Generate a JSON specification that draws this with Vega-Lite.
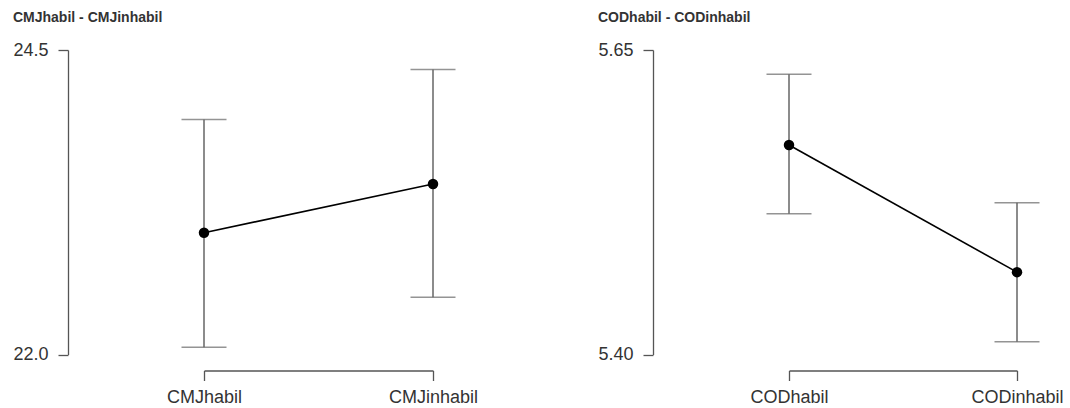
{
  "$schema": "https://vega.github.io/schema/vega-lite/v6.json",
  "background": "white",
  "padding": {"left": 12, "top": 11, "right": 5, "bottom": 0},
  "bounds": "flush",
  "spacing": 356,
  "datasets": {
    "cmj": [
      {"cond": "CMJhabil", "mean": 23.0, "lo": 22.06, "hi": 23.93},
      {"cond": "CMJinhabil", "mean": 23.40, "lo": 22.47, "hi": 24.34}
    ],
    "cod": [
      {"cond": "CODhabil", "mean": 5.572, "lo": 5.5155, "hi": 5.630},
      {"cond": "CODinhabil", "mean": 5.4676, "lo": 5.4104, "hi": 5.5245}
    ]
  },
  "config": {
    "view": {"stroke": null},
    "font": "Liberation Sans",
    "axis": {
      "domainColor": "#555", "tickColor": "#555", "domainWidth": 1.3, "tickWidth": 1.3,
      "labelColor": "#333", "labelFontSize": 18, "labelFont": "Liberation Sans",
      "tickSize": 10, "grid": false, "title": null
    },
    "axisX": {"offset": 16, "labelAngle": 0, "labelPadding": 8},
    "axisY": {"offset": 136, "labelPadding": 10},
    "title": {"anchor": "start", "frame": "bounds", "fontSize": 14, "fontWeight": "bold", "color": "#333", "font": "Liberation Sans", "offset": 16}
  },
  "hconcat": [
    {
      "title": "CMJhabil - CMJinhabil",
      "width": 229,
      "height": 304.5,
      "data": {"name": "cmj"},
      "encoding": {
        "x": {"field": "cond", "type": "nominal", "scale": {"type": "point", "padding": 0, "domain": ["CMJhabil", "CMJinhabil"]}}
      },
      "layer": [
        {
          "mark": {"type": "rule", "stroke": "#666", "strokeWidth": 1.5},
          "encoding": {
            "y": {"field": "lo", "type": "quantitative", "title": null, "scale": {"domain": [22, 24.5], "nice": false, "zero": false}, "axis": {"values": [22, 24.5], "format": ".1f"}},
            "y2": {"field": "hi"}
          }
        },
        {
          "mark": {"type": "tick", "color": "#666", "size": 45, "thickness": 1.5, "orient": "horizontal"},
          "encoding": {"y": {"field": "lo", "type": "quantitative", "title": null}}
        },
        {
          "mark": {"type": "tick", "color": "#666", "size": 45, "thickness": 1.5, "orient": "horizontal"},
          "encoding": {"y": {"field": "hi", "type": "quantitative", "title": null}}
        },
        {
          "mark": {"type": "line", "color": "black", "strokeWidth": 1.6},
          "encoding": {"y": {"field": "mean", "type": "quantitative", "title": null}}
        },
        {
          "mark": {"type": "point", "filled": true, "color": "black", "size": 110, "opacity": 1},
          "encoding": {"y": {"field": "mean", "type": "quantitative", "title": null}}
        }
      ]
    },
    {
      "title": "CODhabil - CODinhabil",
      "width": 228,
      "height": 304.5,
      "data": {"name": "cod"},
      "encoding": {
        "x": {"field": "cond", "type": "nominal", "scale": {"type": "point", "padding": 0, "domain": ["CODhabil", "CODinhabil"]}}
      },
      "layer": [
        {
          "mark": {"type": "rule", "stroke": "#666", "strokeWidth": 1.5},
          "encoding": {
            "y": {"field": "lo", "type": "quantitative", "title": null, "scale": {"domain": [5.4, 5.65], "nice": false, "zero": false}, "axis": {"values": [5.4, 5.65], "format": ".2f"}},
            "y2": {"field": "hi"}
          }
        },
        {
          "mark": {"type": "tick", "color": "#666", "size": 45, "thickness": 1.5, "orient": "horizontal"},
          "encoding": {"y": {"field": "lo", "type": "quantitative", "title": null}}
        },
        {
          "mark": {"type": "tick", "color": "#666", "size": 45, "thickness": 1.5, "orient": "horizontal"},
          "encoding": {"y": {"field": "hi", "type": "quantitative", "title": null}}
        },
        {
          "mark": {"type": "line", "color": "black", "strokeWidth": 1.6},
          "encoding": {"y": {"field": "mean", "type": "quantitative", "title": null}}
        },
        {
          "mark": {"type": "point", "filled": true, "color": "black", "size": 110, "opacity": 1},
          "encoding": {"y": {"field": "mean", "type": "quantitative", "title": null}}
        }
      ]
    }
  ]
}
